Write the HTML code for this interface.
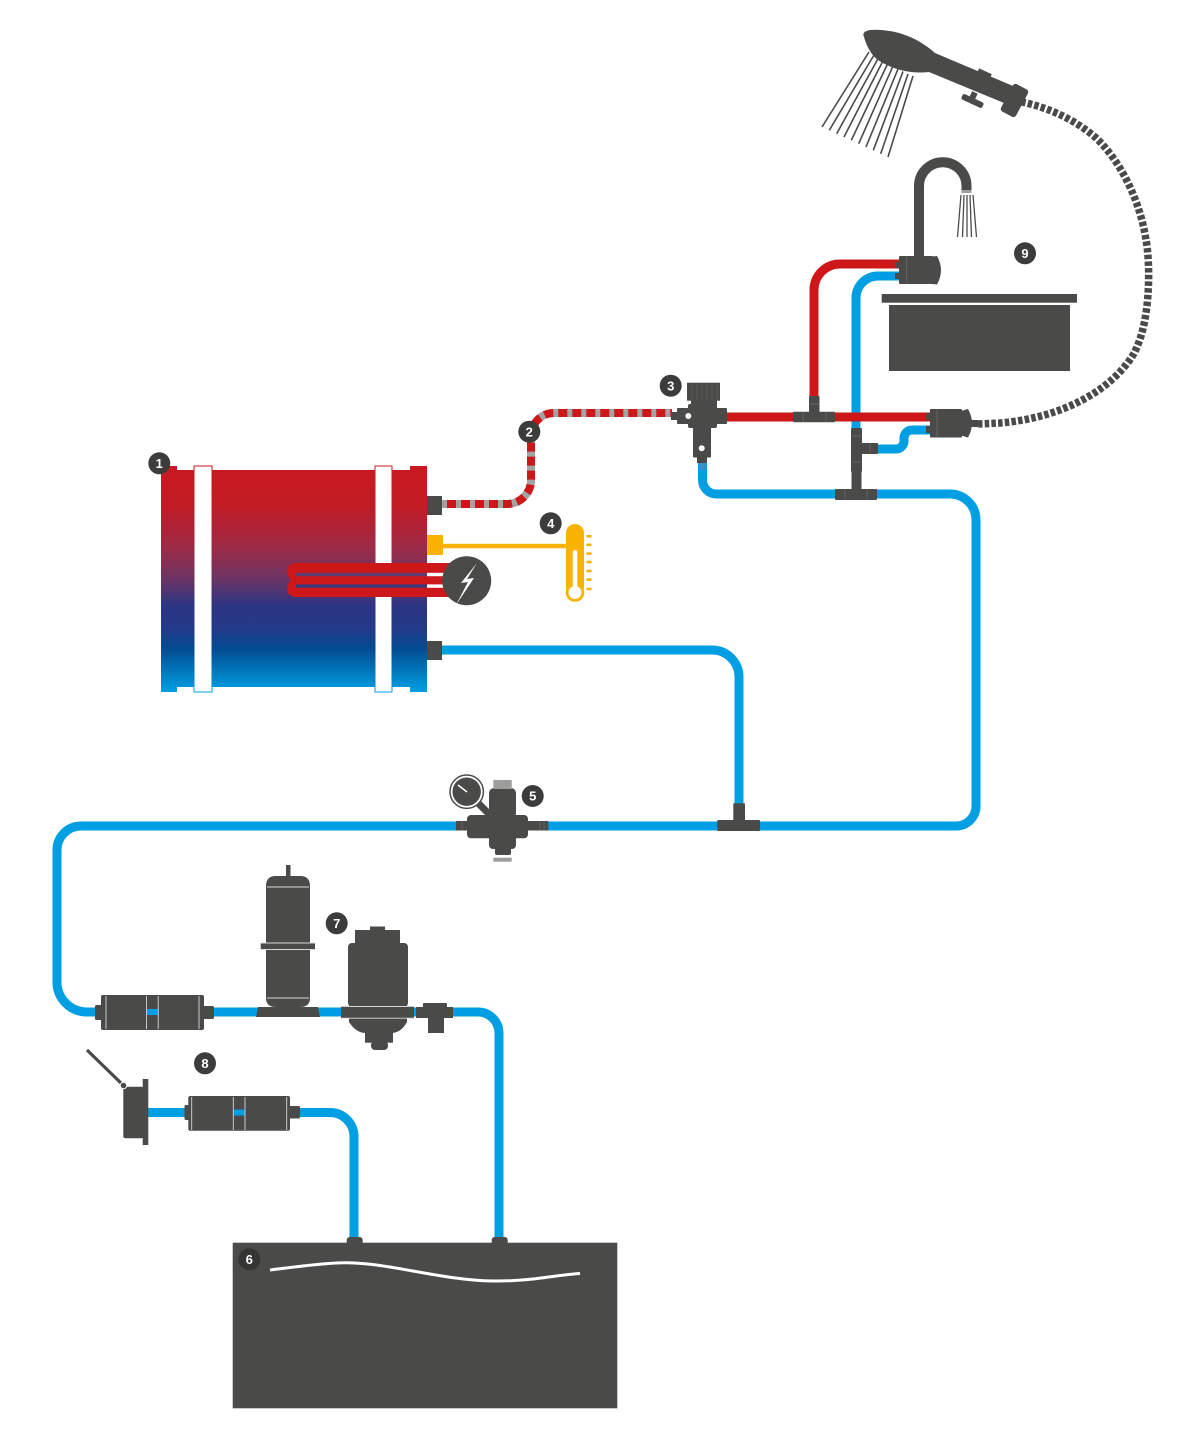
<!DOCTYPE html>
<html><head><meta charset="utf-8"><style>html,body{margin:0;padding:0;background:#fff}svg{display:block}</style></head>
<body>
<svg width="1200" height="1442" viewBox="0 0 1200 1442" xmlns="http://www.w3.org/2000/svg">
<defs>
<linearGradient id="bg" x1="0" y1="466" x2="0" y2="692" gradientUnits="userSpaceOnUse">
<stop offset="0" stop-color="#c8191e"/>
<stop offset="0.17" stop-color="#c21b24"/>
<stop offset="0.36" stop-color="#9e2a46"/>
<stop offset="0.5" stop-color="#6b3464"/>
<stop offset="0.62" stop-color="#2c3583"/>
<stop offset="0.72" stop-color="#233a88"/>
<stop offset="0.81" stop-color="#024c92"/>
<stop offset="1" stop-color="#00a0e3"/>
</linearGradient>
</defs>

<!-- ===== BLUE PIPES ===== -->
<g fill="none" stroke="#009fe3" stroke-width="9">
<path d="M702.5,462 V480 A14,14 0 0 0 716.5,494 H950 A26,26 0 0 1 976,520 V806 A20,20 0 0 1 956,826 H81 A24,24 0 0 0 57,850 V982 A30,30 0 0 0 87,1012 H478 A21,21 0 0 1 499,1033 V1242"/>
<path d="M442,650 H712 A27,27 0 0 1 739,677 V806"/>
<path d="M856,432 V298 A22,22 0 0 1 878,276 H899"/>
<path d="M870,449 H896 A8,8 0 0 0 904,441 V438 A8,8 0 0 1 912,430 H931"/>
<path d="M148,1112.5 H330 A24,24 0 0 1 354,1136.5 V1242"/>
</g>

<!-- ===== RED PIPES ===== -->
<g fill="none" stroke="#cd1719" stroke-width="9">
<path d="M727,417 H931"/>
<path d="M814,400 V290 A26,26 0 0 1 840,264 H899"/>
</g>

<!-- ===== HOT HOSE (2) ===== -->
<path d="M442,504 H507 A24,24 0 0 0 531,480 V436 A23,23 0 0 1 554,413 H672" fill="none" stroke="#a3a3a3" stroke-width="8"/>
<path d="M442,504 H507 A24,24 0 0 0 531,480 V436 A23,23 0 0 1 554,413 H672" fill="none" stroke="#cd1719" stroke-width="8" stroke-dasharray="9 5" stroke-dashoffset="9"/>

<!-- ===== BOILER (1) ===== -->
<path d="M161,466 H177 V470 H410 V466 H427 V692 H410 V687 H177 V692 H161 Z" fill="url(#bg)"/>
<rect x="194" y="466" width="18" height="226" fill="#fff" stroke="url(#bg)" stroke-width="1"/>
<rect x="375" y="466" width="17" height="226" fill="#fff" stroke="url(#bg)" stroke-width="1"/>
<!-- heating element -->
<path d="M296,563 H452 V597 H296 C290,597 287,593 287,589 C287,585 289,582 291,580 C289,578 287,575 287,571 C287,567 290,563 296,563 Z" fill="#cd1719"/>
<rect x="296" y="572.8" width="131" height="3.4" fill="#5f3a6c"/>
<rect x="296" y="584.4" width="131" height="3.4" fill="#3d3a7c"/>
<rect x="427" y="572.8" width="20" height="3.4" fill="#fff"/>
<rect x="427" y="584.4" width="20" height="3.4" fill="#fff"/>
<circle cx="466.7" cy="580.7" r="24.5" fill="#4a4a49"/>
<path d="M477,563 L461,583 L468,582 L456,605 L474,578 L467,579 Z" fill="#fff"/>
<!-- connectors -->
<rect x="427" y="496" width="15" height="19" fill="#4a4a49"/>
<rect x="427" y="641" width="15" height="19" fill="#4a4a49"/>
<!-- sensor (4) -->
<rect x="427" y="535" width="16" height="20" fill="#f9b200"/>
<rect x="443" y="543.8" width="126" height="4.5" fill="#f9b200"/>
<rect x="566" y="524" width="18" height="72" rx="9" fill="#f9b200"/>
<circle cx="575" cy="592.5" r="9.3" fill="#f9b200"/>
<rect x="572.7" y="550" width="4.6" height="40" rx="2.3" fill="#fff"/>
<circle cx="575" cy="592.5" r="6.5" fill="#fff"/>
<g fill="#f9b200">
<rect x="586.5" y="535" width="5" height="2.6"/>
<rect x="586.5" y="543.5" width="5" height="2.6"/>
<rect x="586.5" y="552.3" width="5" height="2.6"/>
<rect x="586.5" y="560.7" width="5" height="2.6"/>
<rect x="586.5" y="569.7" width="5" height="2.6"/>
<rect x="586.5" y="578.3" width="5" height="2.6"/>
<rect x="586.5" y="587.7" width="5" height="2.6"/>
</g>

<!-- ===== VALVE 3 ===== -->
<g fill="#4a4a49">
<rect x="671" y="412" width="7" height="8"/>
<rect x="677" y="408" width="12" height="16" rx="1"/>
<rect x="687" y="382.7" width="33" height="18"/>
<rect x="691" y="400" width="26" height="6"/>
<rect x="688" y="404" width="29" height="24" rx="2"/>
<rect x="716" y="408" width="11" height="16" rx="1"/>
<rect x="693" y="426" width="18" height="31.5" rx="1"/>
<rect x="697" y="457" width="10" height="6"/>
</g>
<g stroke="#5c5c5b" stroke-width="0.8">
<line x1="692" y1="384" x2="692" y2="400"/><line x1="697" y1="384" x2="697" y2="400"/><line x1="702" y1="384" x2="702" y2="400"/><line x1="707" y1="384" x2="707" y2="400"/><line x1="712" y1="384" x2="712" y2="400"/><line x1="717" y1="384" x2="717" y2="400"/>
</g>
<circle cx="688.3" cy="416" r="3" fill="#fff"/>
<circle cx="701.7" cy="448.3" r="3" fill="#fff"/>
<rect x="699" y="463" width="7" height="7" fill="#3a8fc0"/>

<!-- ===== RIGHT SIDE T's & MIXERS ===== -->
<g fill="#4a4a49">
<rect x="809" y="396" width="10.5" height="17" rx="1"/>
<rect x="793" y="411.7" width="42" height="10.6" rx="1"/>
<rect x="851" y="428" width="11" height="44" rx="1"/>
<rect x="861" y="443" width="17" height="11" rx="1"/>
<rect x="851.5" y="472" width="10" height="18"/>
<rect x="835" y="489" width="42" height="11" rx="1"/>
<rect x="733.3" y="803.3" width="11.7" height="17"/>
<rect x="717.3" y="820" width="42.7" height="11" rx="1"/>
</g>
<g stroke="#6b6b6a" stroke-width="0.8">
<line x1="810" y1="404" x2="819" y2="404"/><line x1="803" y1="412" x2="803" y2="422"/><line x1="826" y1="412" x2="826" y2="422"/>
<line x1="852" y1="436" x2="861" y2="436"/><line x1="852" y1="462" x2="861" y2="462"/><line x1="870" y1="444" x2="870" y2="453"/>
<line x1="845" y1="490" x2="845" y2="499"/><line x1="867" y1="490" x2="867" y2="499"/>
</g>

<!-- sink mixer -->
<g fill="#4a4a49">
<rect x="895" y="262" width="5" height="6"/>
<rect x="895" y="273" width="5" height="6"/>
<rect x="899" y="256" width="34" height="28" rx="1"/>
<path d="M932,256.5 L937,256 Q945,270 937,284.5 L932,284 Z"/>
</g>
<line x1="906.7" y1="257" x2="906.7" y2="283" stroke="#6b6b6a" stroke-width="0.8"/>
<!-- spout -->
<path d="M919,256 V186 A23.75,23.75 0 0 1 966.5,186 V191" fill="none" stroke="#4a4a49" stroke-width="10"/>
<rect x="961.5" y="190" width="10" height="3" fill="#9d9d9c"/>
<g stroke="#4a4a49" stroke-width="1.3">
<line x1="961" y1="195" x2="957.5" y2="237"/>
<line x1="964" y1="195" x2="962.5" y2="237"/>
<line x1="967" y1="195" x2="967" y2="237"/>
<line x1="970" y1="195" x2="971.5" y2="237"/>
<line x1="973" y1="195" x2="976.5" y2="237"/>
</g>
<!-- sink basin -->
<rect x="881.7" y="294" width="195.3" height="8.7" fill="#4a4a49"/>
<rect x="889" y="305" width="181" height="66" fill="#4a4a49"/>

<!-- shower mixer -->
<g fill="#4a4a49">
<rect x="926" y="413" width="5" height="7"/>
<rect x="926" y="426" width="5" height="7"/>
<rect x="930" y="409" width="32" height="28.5" rx="1"/>
<path d="M961,411 L968,409 Q976,423 968,437.5 L961,435.5 Z"/>
<rect x="971" y="420" width="7" height="7"/>
</g>
<line x1="937" y1="410" x2="937" y2="437" stroke="#6b6b6a" stroke-width="0.8"/>

<!-- shower hose -->
<path d="M978,424 L1000,423 C1060,418 1110,392 1133,355 C1152,322 1150,260 1146,240 C1140,200 1120,160 1095,137 C1075,120 1050,108 1022,102" fill="none" stroke="#4a4a49" stroke-width="7.5" stroke-dasharray="4.5 2.2"/>

<!-- shower head -->
<g fill="#4a4a49">
<path d="M864,37 C860,29 875,28 895,32 C912,36 925,44 935,53 L1013,86 L1004,103 L929,72 C912,74 893,70 878,60 C870,54 866,44 864,37 Z"/>
<rect x="977" y="71" width="14" height="7" transform="rotate(25 984 74.5)"/>
<rect x="970" y="92" width="6" height="9" transform="rotate(25 973 96.5)"/>
<rect x="961" y="98" width="23" height="6" rx="2" transform="rotate(25 972.5 101)"/>
<rect x="1006" y="85" width="17" height="31" rx="3" transform="rotate(28 1014.5 100.5)"/>
</g>
<g stroke="#4a4a49" stroke-width="1.6">
<line x1="869" y1="52" x2="822" y2="127"/>
<line x1="874" y1="55" x2="829.3" y2="130.3"/>
<line x1="878.6" y1="57.6" x2="836.7" y2="133.7"/>
<line x1="883.3" y1="60.3" x2="844" y2="137"/>
<line x1="888" y1="63" x2="851.3" y2="140.3"/>
<line x1="893" y1="66" x2="858.7" y2="143.7"/>
<line x1="898" y1="69" x2="866" y2="147"/>
<line x1="903" y1="71.5" x2="873.3" y2="150.3"/>
<line x1="908" y1="74" x2="880.7" y2="153.7"/>
<line x1="913" y1="76" x2="888" y2="157"/>
</g>

<!-- ===== VALVE 5 ===== -->
<line x1="478" y1="803" x2="492" y2="817" stroke="#4a4a49" stroke-width="7"/>
<circle cx="466.7" cy="791.7" r="16.7" fill="#fff" stroke="#4a4a49" stroke-width="1.5"/>
<circle cx="466.7" cy="791.7" r="14.2" fill="#4a4a49"/>
<line x1="467" y1="792" x2="458" y2="785" stroke="#fff" stroke-width="1.5"/>
<g fill="#4a4a49">
<rect x="456" y="821" width="12" height="9.5"/>
<rect x="527" y="821" width="21.3" height="9.5"/>
<rect x="489" y="788" width="27" height="30" rx="5"/>
<rect x="467" y="815" width="61" height="23.3" rx="4"/>
<rect x="489" y="835" width="27" height="14" rx="4"/>
<rect x="495" y="848" width="16" height="7" rx="2"/>
</g>
<rect x="493.3" y="780" width="18.4" height="9" fill="#9d9d9c"/>
<rect x="493.3" y="857.7" width="18.4" height="4" fill="#9d9d9c"/>
<g stroke="#6b6b6a" stroke-width="0.8">
<line x1="462" y1="821" x2="462" y2="830"/><line x1="540" y1="821" x2="540" y2="830"/><line x1="544" y1="821" x2="544" y2="830"/>
</g>

<!-- ===== LEFT FILTER (in-line 1012) ===== -->
<g fill="#4a4a49">
<rect x="95" y="1005" width="8" height="15" rx="1.5"/>
<rect x="101" y="995" width="103" height="35" rx="2"/>
<rect x="203" y="1006" width="11" height="13" rx="1.5"/>
</g>
<rect x="147" y="1009" width="11" height="6" fill="#009fe3"/>
<g stroke="#d8d8d8" stroke-width="0.9">
<line x1="106" y1="996" x2="106" y2="1029"/><line x1="146.5" y1="996" x2="146.5" y2="1029"/><line x1="158.2" y1="996" x2="158.2" y2="1029"/><line x1="199" y1="996" x2="199" y2="1029"/>
</g>

<!-- ===== ACCUMULATOR ===== -->
<g fill="#4a4a49">
<rect x="286" y="865" width="4.5" height="12"/>
<path d="M266,943 V886 Q266,876 276,876 H300 Q310,876 310,886 V943 Z"/>
<rect x="260.7" y="943.3" width="54.3" height="6"/>
<path d="M266,949 H310 V998 Q310,1007 300,1007 H276 Q266,1007 266,998 Z"/>
<path d="M258,1007 H318 L320,1017 H256 Z"/>
</g>
<g stroke="#d8d8d8" stroke-width="0.9">
<line x1="267" y1="887" x2="309" y2="887"/>
<line x1="267" y1="998" x2="309" y2="998"/>
<line x1="261" y1="943" x2="315" y2="943"/><line x1="261" y1="949.5" x2="315" y2="949.5"/>
</g>

<!-- ===== PUMP 7 ===== -->
<g fill="#4a4a49">
<rect x="370" y="926.5" width="15" height="5"/>
<rect x="355" y="930" width="45" height="14"/>
<rect x="348" y="943" width="60" height="64" rx="4"/>
<rect x="341" y="1006.7" width="73" height="11.6"/>
<path d="M349,1018 H407 V1022 Q401,1033 391,1033 H366 Q356,1033 349,1022 Z"/>
<rect x="365" y="1032" width="28" height="10.7"/>
<rect x="371" y="1041" width="17" height="9" rx="4"/>
<rect x="416" y="1007" width="37" height="11"/>
<rect x="423" y="1003" width="24" height="15" rx="1"/>
<rect x="428" y="1017" width="16" height="16"/>
</g>
<g stroke="#d8d8d8" stroke-width="0.9">
<line x1="349" y1="1006.5" x2="407" y2="1006.5"/><line x1="341" y1="1018.2" x2="414" y2="1018.2"/>
</g>

<!-- ===== FILTER 8 / INLET ===== -->
<line x1="87" y1="1050" x2="123" y2="1085" stroke="#4a4a49" stroke-width="3.2"/>
<g fill="#4a4a49">
<rect x="123.3" y="1086.7" width="20" height="51.6" rx="2"/>
<rect x="142.7" y="1079" width="5.6" height="66"/>
<circle cx="123.5" cy="1085.5" r="3.3" stroke="#fff" stroke-width="1"/>
<rect x="184.5" y="1105" width="6" height="15" rx="1.5"/>
<rect x="188.3" y="1096" width="101.7" height="34.7" rx="2"/>
<rect x="289" y="1106" width="11" height="12.5" rx="1.5"/>
</g>
<rect x="233.5" y="1109.5" width="11.5" height="6" fill="#009fe3"/>
<g stroke="#d8d8d8" stroke-width="0.9">
<line x1="191.7" y1="1097" x2="191.7" y2="1130"/><line x1="233.3" y1="1097" x2="233.3" y2="1130"/><line x1="245" y1="1097" x2="245" y2="1130"/><line x1="286.7" y1="1097" x2="286.7" y2="1130"/>
</g>

<!-- ===== TANK 6 ===== -->
<rect x="346.7" y="1237" width="16" height="10" rx="3" fill="#4a4a49"/>
<rect x="491.7" y="1237" width="16" height="10" rx="3" fill="#4a4a49"/>
<rect x="232.7" y="1242.7" width="384.6" height="165.6" fill="#4a4a49"/>
<path d="M270,1270 C300,1266 330,1262.5 347,1262.7 C390,1263 440,1280 493,1281 C530,1281.5 555,1275 580,1273.5" fill="none" stroke="#fff" stroke-width="3"/>

<!-- ===== LABELS ===== -->
<g font-family="Liberation Sans, Arial, sans-serif" font-weight="bold" font-size="13" fill="#fff" text-anchor="middle">
<circle cx="159.3" cy="463.3" r="11" fill="#3c3c3b"/><text x="159.3" y="468">1</text>
<circle cx="529.3" cy="431.7" r="11" fill="#3c3c3b"/><text x="529.3" y="436.4">2</text>
<circle cx="670.7" cy="385.7" r="11" fill="#3c3c3b"/><text x="670.7" y="390.4">3</text>
<circle cx="550.7" cy="523.3" r="11" fill="#3c3c3b"/><text x="550.7" y="528">4</text>
<circle cx="532.7" cy="796" r="11" fill="#3c3c3b"/><text x="532.7" y="800.7">5</text>
<circle cx="249.3" cy="1259.3" r="11" fill="#353534"/><text x="249.3" y="1264">6</text>
<circle cx="336.7" cy="923.3" r="11" fill="#3c3c3b"/><text x="336.7" y="928">7</text>
<circle cx="205" cy="1063.3" r="11" fill="#3c3c3b"/><text x="205" y="1068">8</text>
<circle cx="1025" cy="253.3" r="11" fill="#3c3c3b"/><text x="1025" y="258">9</text>
</g>
</svg>
</body></html>
